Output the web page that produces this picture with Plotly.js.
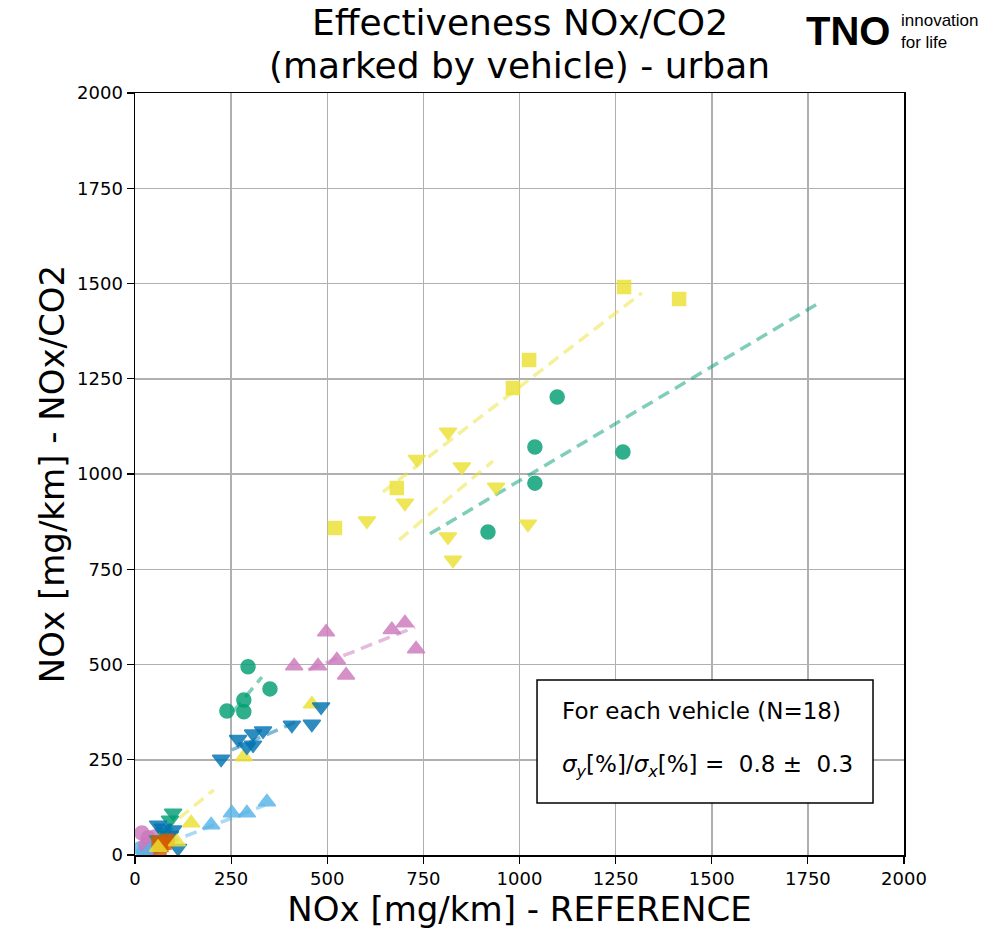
<!DOCTYPE html>
<html><head><meta charset="utf-8">
<script src="https://cdn.plot.ly/plotly-3.0.1.min.js"></script>
<style>body{margin:0;background:#fff}#chart{width:989px;height:937px}</style>
</head><body><div id="chart"></div>
<script>
// Vehicle data: [NOx reference, NOx/CO2] in mg/km
const vehA_x = [520, 681, 983, 1025, 1272, 1415];
const vehA_y = [858, 963, 1226, 1299, 1491, 1459];
const vehB_x = [814, 733, 850, 702, 603, 939, 814, 827, 1022];
const vehB_y = [1110, 1039, 1019, 924, 877, 966, 835, 774, 869];
const vehC_x = [918, 1040, 1040, 1269, 1098];
const vehC_y = [848, 976, 1071, 1058, 1202];
const vehD_x = [414, 476, 525, 549, 497, 668, 702, 731];
const vehD_y = [496, 496, 512, 472, 585, 591, 609, 541];
const vehE_x = [294, 351, 283, 283, 239];
const vehE_y = [494, 436, 407, 376, 378];
const vehF_x = [224, 268, 291, 307, 307, 333, 408, 460, 484];
const vehF_y = [252, 304, 284, 318, 289, 326, 341, 344, 389];
const vehG_x = [283, 460, 146, 109, 60];
const vehG_y = [257, 396, 84, 34, 20];
const vehH_x = [198, 252, 291, 343, 40];
const vehH_y = [79, 110, 110, 139, 15];
const vehI_x = [99, 91, 75, 60];
const vehI_y = [110, 92, 60, 40];
const vehJ_x = [60, 73, 99, 91, 112, 80];
const vehJ_y = [79, 71, 66, 52, 18, 35];
const vehK_x = [18, 34, 52, 28, 45];
const vehK_y = [58, 45, 47, 25, 20];
const vehL_x = [60, 78, 65, 86, 70];
const vehL_y = [34, 31, 18, 39, 25];
const vehM_x = [13, 34, 22, 50];
const vehM_y = [18, 13, 8, 20];

// Per-vehicle fitted trend lines (endpoints)
const fitA_x = [645, 1318], fitA_y = [953, 1475];
const fitB_x = [687, 931], fitB_y = [827, 1034];
const fitC_x = [767, 1779], fitC_y = [843, 1449];
const fitD_x = [450, 728], fitD_y = [486, 598];
const fitE_x = [255, 330], fitE_y = [376, 467];
const fitF_x = [252, 429], fitF_y = [276, 354];
const fitG_x = [39, 205], fitG_y = [34, 171];
const fitH_x = [39, 338], fitH_y = [13, 131];
const fitL_x = [50, 100], fitL_y = [15, 40];

const xTicks = [0, 250, 500, 750, 1000, 1250, 1500, 1750, 2000];
const yTicks = [0, 250, 500, 750, 1000, 1250, 1500, 1750, 2000];

const GREEN = '#029e73', YELLOW = '#ece133', PINK = '#cc78bc', BLUE = '#0173b2', LBLUE = '#56b4e9', ORANGE = '#d55e00';

function pts(x, y, color, symbol, size) {
  return {x: x, y: y, type: 'scatter', mode: 'markers', showlegend: false, hoverinfo: 'x+y',
    marker: {color: color, symbol: symbol, size: size, opacity: 0.82, line: {color: color, width: 1.5}}};
}
function fit(x, y, color) {
  return {x: x, y: y, type: 'scatter', mode: 'lines', showlegend: false, hoverinfo: 'skip',
    line: {color: color, width: 3.5, dash: '12px,7px'}, opacity: 0.5};
}

const data = [
  fit(fitA_x, fitA_y, YELLOW), fit(fitB_x, fitB_y, YELLOW), fit(fitC_x, fitC_y, GREEN),
  fit(fitD_x, fitD_y, PINK), fit(fitE_x, fitE_y, GREEN), fit(fitF_x, fitF_y, BLUE),
  fit(fitG_x, fitG_y, YELLOW), fit(fitH_x, fitH_y, LBLUE), fit(fitL_x, fitL_y, '#888888'),
  pts(vehM_x, vehM_y, LBLUE, 'circle', 13),
  pts(vehK_x, vehK_y, PINK, 'circle', 14),
  pts(vehH_x, vehH_y, LBLUE, 'triangle-up', 15),
  pts(vehI_x, vehI_y, GREEN, 'triangle-down', 15),
  pts(vehJ_x, vehJ_y, BLUE, 'triangle-down', 15),
  pts(vehL_x, vehL_y, ORANGE, 'square', 12),
  pts(vehG_x, vehG_y, YELLOW, 'triangle-up', 15),
  pts(vehF_x, vehF_y, BLUE, 'triangle-down', 15),
  pts(vehE_x, vehE_y, GREEN, 'circle', 14),
  pts(vehD_x, vehD_y, PINK, 'triangle-up', 15),
  pts(vehC_x, vehC_y, GREEN, 'circle', 14),
  pts(vehB_x, vehB_y, YELLOW, 'triangle-down', 15),
  pts(vehA_x, vehA_y, YELLOW, 'square', 13)
];

const FONT = 'DejaVu Sans, sans-serif';
const axisCommon = {
  range: [0, 2000], autorange: false, showgrid: true, gridcolor: '#b0b0b0', gridwidth: 1.5,
  zeroline: false, showline: true, linecolor: '#000', linewidth: 1.5, mirror: true,
  ticks: 'outside', ticklen: 7, tickwidth: 1.2, tickcolor: '#000',
  tickfont: {family: FONT, size: 18, color: '#000'}
};

const layout = {
  width: 989, height: 937,
  margin: {l: 135, r: 85, t: 93, b: 82},
  paper_bgcolor: '#fff', plot_bgcolor: '#fff',
  xaxis: Object.assign({}, axisCommon, {tickvals: xTicks, ticktext: xTicks.map(String),
    title: {text: 'NOx [mg/km] - REFERENCE', font: {family: FONT, size: 34, color: '#000'}, standoff: 8}}),
  yaxis: Object.assign({}, axisCommon, {tickvals: yTicks, ticktext: yTicks.map(String),
    title: {text: 'NOx [mg/km] - NOx/CO2', font: {family: FONT, size: 34, color: '#000'}, standoff: 2}}),
  shapes: [
    {type: 'rect', xref: 'paper', yref: 'paper', x0: 0.5228, x1: 0.9597, y0: 0.0682, y1: 0.2297,
      line: {color: '#000', width: 1.5}, fillcolor: '#fff', layer: 'above'}
  ],
  annotations: [
    {xref: 'paper', yref: 'paper', x: 0.5, y: 1.093, xanchor: 'center', yanchor: 'middle', showarrow: false,
      text: 'Effectiveness NOx/CO2', font: {family: FONT, size: 36, color: '#000'}},
    {xref: 'paper', yref: 'paper', x: 0.5, y: 1.036, xanchor: 'center', yanchor: 'middle', showarrow: false,
      text: '(marked by vehicle) - urban', font: {family: FONT, size: 36, color: '#000'}},
    {xref: 'paper', yref: 'paper', x: 0.5527, y: 0.1890, xanchor: 'left', yanchor: 'middle', showarrow: false,
      text: 'For each vehicle (N=18)', font: {family: FONT, size: 23, color: '#000'}},
    {xref: 'paper', yref: 'paper', x: 0.5527, y: 0.1168, xanchor: 'left', yanchor: 'middle', showarrow: false,
      text: '<i>σ<sub>y</sub></i>[%]/<i>σ<sub>x</sub></i>[%] =  0.8 ±  0.3', font: {family: FONT, size: 23, color: '#000'}},
    {xref: 'paper', yref: 'paper', x: 0.985, y: 1.081, xanchor: 'right', yanchor: 'middle', showarrow: false,
      text: '<b>TNO</b>', font: {family: 'Liberation Sans, Arial, sans-serif', size: 40, color: '#000'}},
    {xref: 'paper', yref: 'paper', x: 0.9935, y: 1.081, xanchor: 'left', yanchor: 'middle', showarrow: false, align: 'left',
      text: 'innovation<br>for life', font: {family: 'Liberation Sans, Arial, sans-serif', size: 17, color: '#000'}}
  ]
};

Plotly.newPlot('chart', data, layout, {displayModeBar: false, staticPlot: true});
</script>
</body></html>
